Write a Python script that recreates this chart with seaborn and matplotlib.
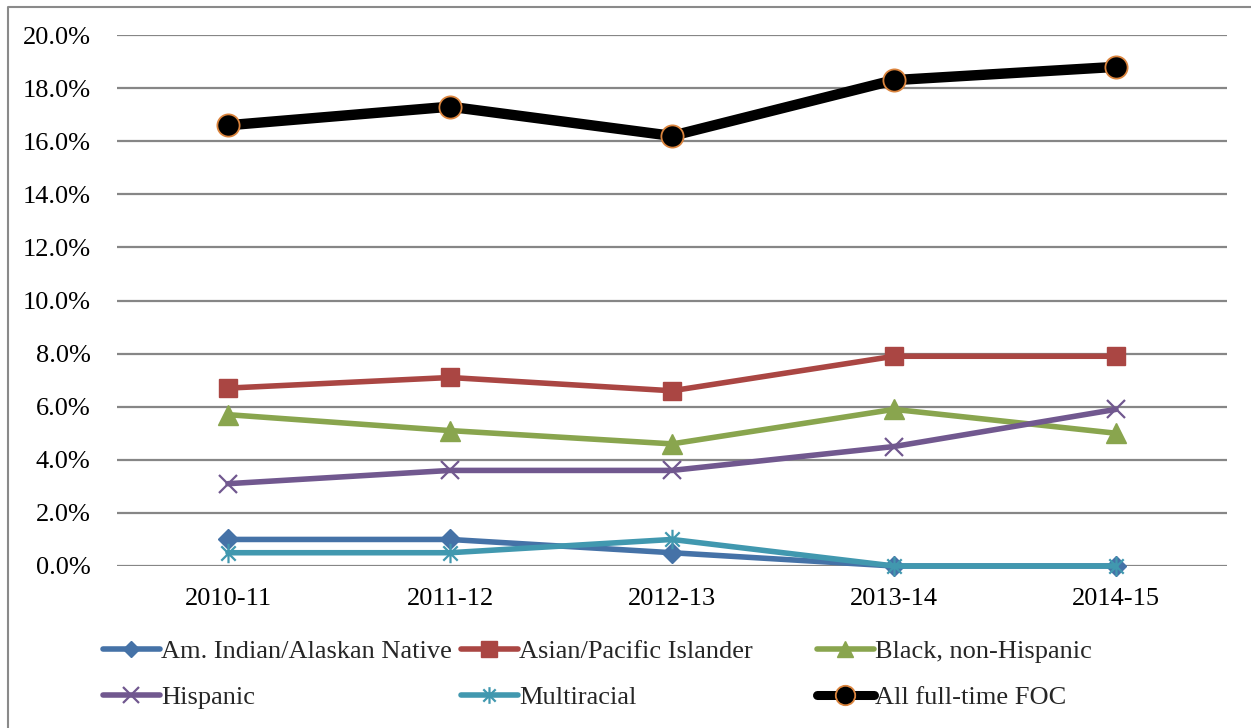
import pandas as pd
import matplotlib.pyplot as plt
import seaborn as sns
from matplotlib.path import Path
from matplotlib.lines import Line2D

sns.set_theme(style="white")
plt.rcParams['font.family'] = ['Liberation Serif', 'DejaVu Serif']

# dados (fração)
anos = ['2010-11', '2011-12', '2012-13', '2013-14', '2014-15']
am_indian = [0.010, 0.010, 0.005, 0.000, 0.000]
asian = [0.067, 0.071, 0.066, 0.079, 0.079]
black = [0.057, 0.051, 0.046, 0.059, 0.050]
hispanic = [0.031, 0.036, 0.036, 0.045, 0.059]
multiracial = [0.005, 0.005, 0.010, 0.000, 0.000]
all_foc = [0.166, 0.173, 0.162, 0.183, 0.188]

series_names = ['Am. Indian/Alaskan Native', 'Asian/Pacific Islander', 'Black, non-Hispanic',
                'Hispanic', 'Multiracial', 'All full-time FOC']
series_values = [am_indian, asian, black, hispanic, multiracial, all_foc]

# marcador asterisco estilo Excel (X + traço vertical)
asterisco = Path([(-1, -1), (1, 1), (-1, 1), (1, -1), (0, -1.35), (0, 1.35)],
                 [Path.MOVETO, Path.LINETO, Path.MOVETO, Path.LINETO, Path.MOVETO, Path.LINETO])

estilos = {
    'Am. Indian/Alaskan Native': dict(color='#4572A7', marker='D', ms=10, mec='#4572A7', lw=4, mew=1),
    'Asian/Pacific Islander': dict(color='#AA4643', marker='s', ms=13, mec='#AA4643', lw=4, mew=1),
    'Black, non-Hispanic': dict(color='#89A54E', marker='^', ms=14, mec='#89A54E', lw=4, mew=1),
    'Hispanic': dict(color='#71588F', marker='x', ms=13, mec='#71588F', lw=4, mew=1.6),
    'Multiracial': dict(color='#4198AF', marker=asterisco, ms=14, mec='#4198AF', lw=4, mew=1.6),
    'All full-time FOC': dict(color='black', marker='o', ms=16, mec='#DB843D', lw=7.5, mew=1.3),
}

df = pd.DataFrame({'Ano': anos * len(series_names),
                   'Serie': [n for n in series_names for _ in anos],
                   'Valor': [v for vals in series_values for v in vals]})
df['x'] = df['Ano'].map({a: i for i, a in enumerate(anos)})

fig = plt.figure(figsize=(12.51, 7.28), dpi=100)
ax = fig.add_axes([117 / 1251, 1 - 566 / 728, 1110 / 1251, 531 / 728])

for nome in series_names:
    st = estilos[nome]
    sub = df[df['Serie'] == nome]
    sns.lineplot(data=sub, x='x', y='Valor', ax=ax, color=st['color'], lw=st['lw'],
                 marker=st['marker'], markersize=st['ms'], markeredgecolor=st['mec'],
                 markeredgewidth=st['mew'], label=nome, legend=False, clip_on=False,
                 solid_capstyle='round')

ax.set_xlim(-0.5, 4.5)
ax.set_ylim(0, 0.20)
ax.set_yticks([i / 100 for i in range(0, 21, 2)])
ax.set_yticklabels([f'{i:.1f}%' for i in range(0, 21, 2)])
ax.set_xticks(range(len(anos)))
ax.set_xticklabels(anos)
ax.set_xlabel('')
ax.set_ylabel('')
ax.yaxis.grid(True, color='#868686', lw=1.6)
ax.xaxis.grid(False)
ax.set_axisbelow(True)
for s in ax.spines.values():
    s.set_visible(False)
ax.tick_params(axis='y', length=0, pad=19, labelsize=19, labelcolor='black')
ax.tick_params(axis='x', length=0, pad=16, labelsize=19, labelcolor='black')

# legenda em três colunas separadas
handles = {}
for nome in series_names:
    st = estilos[nome]
    handles[nome] = Line2D([], [], color=st['color'], lw=st['lw'] if nome != 'All full-time FOC' else 6.5,
                           marker=st['marker'], markersize=st['ms'] - 2 if nome != 'All full-time FOC' else 14,
                           markeredgecolor=st['mec'], markeredgewidth=st['mew'], solid_capstyle='round')
colunas = [(['Am. Indian/Alaskan Native', 'Hispanic'], 103),
           (['Asian/Pacific Islander', 'Multiracial'], 461),
           (['Black, non-Hispanic', 'All full-time FOC'], 817)]
for nomes, xpix in colunas:
    fig.legend([handles[n] for n in nomes], nomes, loc='upper left',
               bbox_to_anchor=(xpix / 1251, 1 - 640 / 728), frameon=False, fontsize=19,
               handlelength=2.15, handletextpad=0.05, labelspacing=0.85, borderpad=0,
               borderaxespad=0)

# moldura externa
fig.add_artist(Line2D([8 / 1251, 8 / 1251, 1.01], [-0.01, 1 - 7 / 728, 1 - 7 / 728],
                      transform=fig.transFigure, color='#8a8a8a', lw=1.5))

fig.savefig('out.png', dpi=100)
